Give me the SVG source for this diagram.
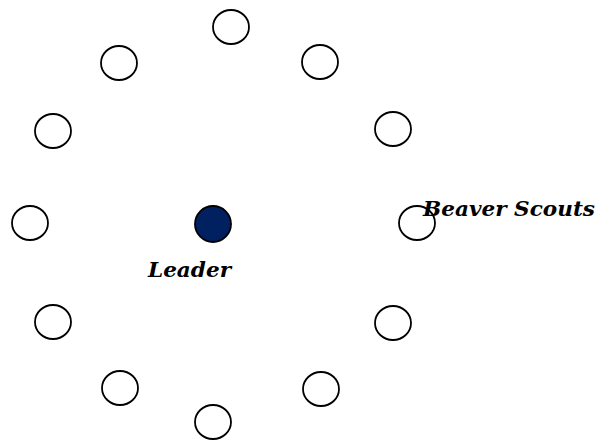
<svg xmlns="http://www.w3.org/2000/svg" width="597" height="443" viewBox="0 0 597 443">
<style>
.n{fill:#ffffff;stroke:#000000;stroke-width:1.8}
.lead{fill:#002060;stroke:#000000;stroke-width:1.8}
.t{font-family:"DejaVu Serif","Liberation Serif",serif;font-weight:bold;font-style:italic;font-size:20px;fill:#000000}
</style>
<rect width="597" height="443" fill="#ffffff"/>
<g id="connectors"></g>
<g id="scout1"><ellipse class="n" cx="231" cy="27" rx="18" ry="17"/></g>
<g id="scout2"><ellipse class="n" cx="119" cy="63" rx="18" ry="17"/></g>
<g id="scout3"><ellipse class="n" cx="320" cy="62" rx="18" ry="17"/></g>
<g id="scout4"><ellipse class="n" cx="53" cy="131" rx="18" ry="17"/></g>
<g id="scout5"><ellipse class="n" cx="393" cy="129" rx="18" ry="17"/></g>
<g id="scout6"><ellipse class="n" cx="30" cy="223" rx="18" ry="17"/></g>
<g id="scout7"><ellipse class="n" cx="417" cy="223" rx="18" ry="17"/></g>
<g id="scout8"><ellipse class="n" cx="53" cy="322" rx="18" ry="17"/></g>
<g id="scout9"><ellipse class="n" cx="393" cy="323" rx="18" ry="17"/></g>
<g id="scout10"><ellipse class="n" cx="120" cy="388" rx="18" ry="17"/></g>
<g id="scout11"><ellipse class="n" cx="321" cy="389" rx="18" ry="17"/></g>
<g id="scout12"><ellipse class="n" cx="213" cy="422" rx="18" ry="17"/></g>
<g id="leader"><ellipse class="lead" cx="213" cy="224" rx="18" ry="18"/></g>
<g id="label-leader"><text class="t" x="148" y="277" textLength="83" lengthAdjust="spacingAndGlyphs">Leader</text></g>
<g id="label-beaver"><text class="t" x="423" y="216" textLength="172" lengthAdjust="spacingAndGlyphs">Beaver Scouts</text></g>
</svg>
